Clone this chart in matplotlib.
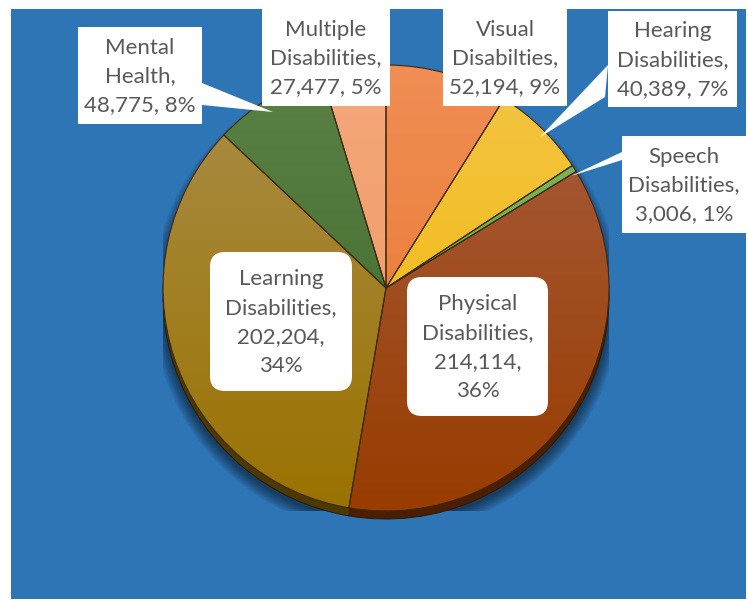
# -*- coding: utf-8 -*-
# Grafico de torta: estudiantes por tipo de discapacidad

import numpy as np
import matplotlib.pyplot as plt
from matplotlib.patches import Rectangle, FancyBboxPatch, Polygon, Circle
from matplotlib.colors import to_rgb

# Datos del grafico (orden horario desde las 12)

categorias = ["Visual\nDisabilties", "Hearing\nDisabilities", "Speech\nDisabilities",
              "Physical\nDisabilities", "Learning\nDisabilities", "Mental\nHealth",
              "Multiple\nDisabilities"]
valores = [52194, 40389, 3006, 214114, 202204, 48775, 27477]
internas = ["Physical\nDisabilities", "Learning\nDisabilities"]

# colores (claro arriba, oscuro abajo)
colores_claros = ["#F08E55", "#F4C445", "#7DB85A", "#A85E40", "#AA8E4A", "#5A8246", "#F4A87C"]
colores_oscuros = ["#E87426", "#F0B800", "#66A63E", "#983C00", "#9A7200", "#3E6624", "#EF965C"]

# Figura
W, H = 748, 601
fig = plt.figure(figsize=(W / 100, H / 100), dpi=100)
fig.patch.set_facecolor("white")

# fondo azul
ax_bg = fig.add_axes([0, 0, 1, 1], zorder=0)
ax_bg.set_xlim(0, W)
ax_bg.set_ylim(H, 0)
ax_bg.axis("off")
ax_bg.add_patch(Rectangle((11, 9), 735, 590, facecolor="#2E75B6", edgecolor="none"))

# torta
cx, cy, r = 386, 288, 223
ax = fig.add_axes([(cx - r) / W, 1 - (cy + r) / H, 2 * r / W, 2 * r / H], zorder=1)
ax.set_xlim(-1, 1)
ax.set_ylim(-1, 1)
ax.axis("off")

grosor = 8 / r

# sombra
for k in range(8):
    ax.add_patch(Circle((0.0, -grosor - 0.02), 1.0 + 0.007 * k, facecolor="black",
                        edgecolor="none", alpha=0.07, zorder=0.1))

# borde 3D
oscuros = [tuple(np.array(to_rgb(c)) * 0.5) for c in colores_oscuros]
rim, _ = ax.pie(valores, startangle=90, counterclock=False, radius=1,
                center=(0, -grosor), colors=oscuros,
                wedgeprops=dict(edgecolor="#2a1a08", linewidth=0.7))
for w in rim:
    w.set_zorder(0.2)

# cara superior
wedges, _ = ax.pie(valores, startangle=90, counterclock=False, radius=1,
                   wedgeprops=dict(edgecolor="#3a2814", linewidth=0.8))
t = np.linspace(0, 1, 256)[:, None]
for w, c1, c2 in zip(wedges, colores_claros, colores_oscuros):
    a, b = np.array(to_rgb(c1)), np.array(to_rgb(c2))
    grad = (a[None, :] * (1 - t) + b[None, :] * t)[:, None, :]
    im = ax.imshow(grad, extent=(-1, 1, -1, 1), origin="upper", aspect="auto",
                   interpolation="bilinear", zorder=0.5)
    im.set_clip_path(w)
    w.set_facecolor("none")
    w.set_zorder(1)
ax.set_xlim(-1, 1)
ax.set_ylim(-1, 1)

# etiquetas
ax_o = fig.add_axes([0, 0, 1, 1], zorder=2)
ax_o.set_xlim(0, W)
ax_o.set_ylim(H, 0)
ax_o.axis("off")

total = sum(valores)
cajas = {
    "Visual\nDisabilties": (443, 9, 567, 106),
    "Hearing\nDisabilities": (608, 11, 737, 107),
    "Speech\nDisabilities": (622, 136, 746, 233),
    "Physical\nDisabilities": (407, 277, 548, 416),
    "Learning\nDisabilities": (210, 252, 352, 391),
    "Mental\nHealth": (78, 27, 202, 124),
    "Multiple\nDisabilities": (262, 9, 390, 106),
}

# lineas guia (triangulos blancos)
guias = [
    [(202, 83), (202, 105), (273, 112)],
    [(608, 65), (605, 97), (540, 137)],
    [(622, 152), (622, 160), (571, 176)],
]
for g in guias:
    ax_o.add_patch(Polygon(g, closed=True, facecolor="white", edgecolor="none"))

for nombre, v in zip(categorias, valores):
    pct = round(100 * v / total)
    x0, y0, x1, y1 = cajas[nombre]
    if nombre in internas:
        texto = f"{nombre},\n{v:,},\n{pct}%"
        ax_o.add_patch(FancyBboxPatch((x0 + 15, y0 + 15), x1 - x0 - 30, y1 - y0 - 30,
                                      boxstyle="round,pad=15", facecolor="white",
                                      edgecolor="none"))
    else:
        texto = f"{nombre},\n{v:,}, {pct}%"
        ax_o.add_patch(Rectangle((x0, y0), x1 - x0, y1 - y0, facecolor="white",
                                 edgecolor="none"))
    ax_o.text((x0 + x1) / 2, (y0 + y1) / 2 + 1, texto, ha="center", va="center",
              multialignment="center", fontsize=16, color="#595959",
              family="Lato", linespacing=1.55)

fig.savefig("out.png", dpi=100)
